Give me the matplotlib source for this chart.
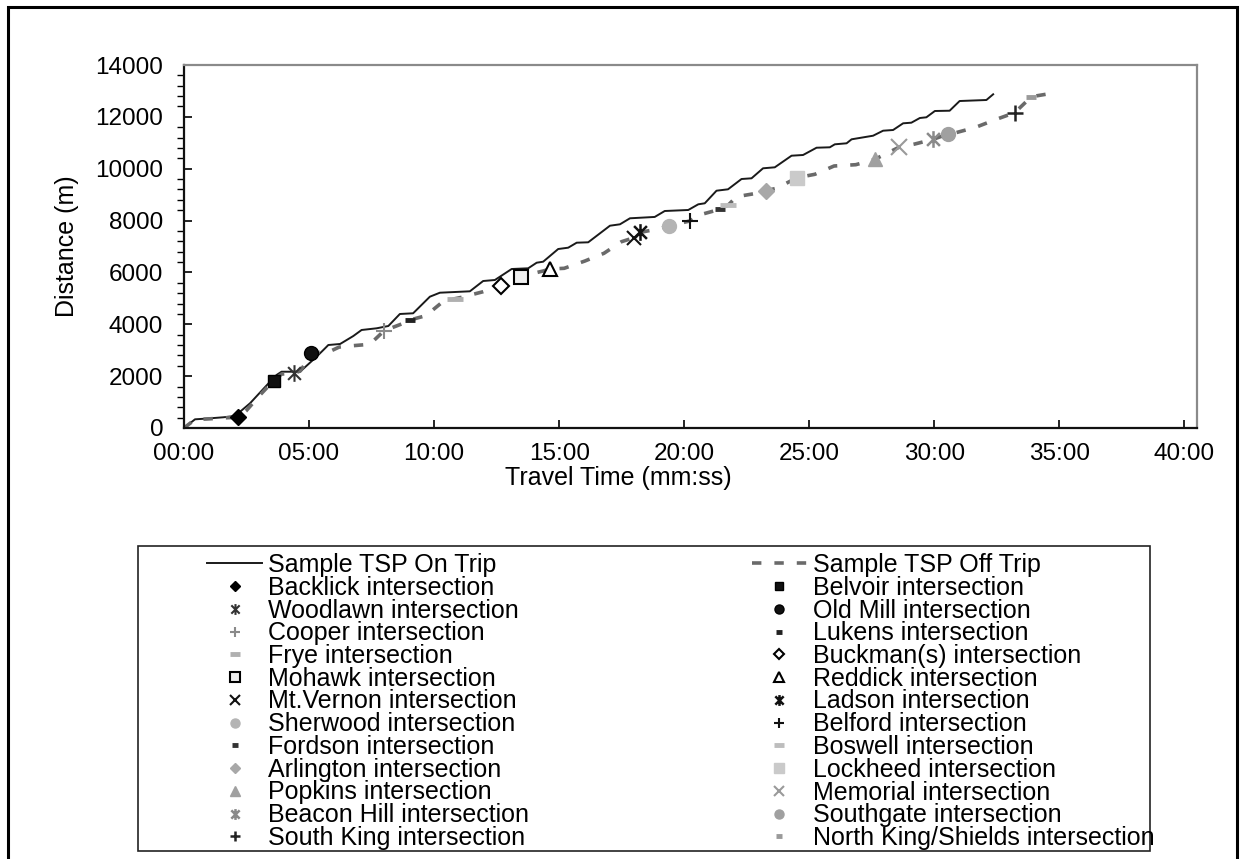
import matplotlib
matplotlib.use("Agg")
import matplotlib.pyplot as plt
from matplotlib.path import Path
from matplotlib.patches import Rectangle
from matplotlib.ticker import MultipleLocator, FuncFormatter

plt.rcParams['font.family'] = ['Liberation Sans', 'DejaVu Sans']

# travel time (minutes) and distance (m) for the two sample trips
on_t = [0, 0.44, 0.84, 1.57, 2.04, 2.64, 3.44, 3.70, 3.90, 4.64, 5.30, 5.64, 5.77, 6.24, 6.77,
        7.10, 7.70, 8.17, 8.63, 9.16, 9.83, 10.23, 11.43, 11.96, 12.43, 13.10, 13.76, 14.10, 14.36, 14.96,
        15.36, 15.70, 16.16, 17.03, 17.43, 17.83, 18.82, 19.22, 20.16, 20.56, 20.82, 21.29, 21.75, 22.29, 22.69,
        23.15, 23.62, 24.29, 24.75, 25.29, 25.82, 26.02, 26.49, 26.69, 27.55, 27.95, 28.35, 28.75, 29.08, 29.42,
        29.68, 30.02, 30.61, 31.01, 32.08, 32.35]
on_d = [0, 335, 359, 413, 463, 953, 1786, 2044, 2171, 2171, 2750, 3074, 3201, 3240, 3548,
        3780, 3845, 3934, 4397, 4424, 5064, 5218, 5272, 5669, 5708, 6132, 6159, 6375, 6414, 6903,
        6954, 7147, 7162, 7802, 7856, 8088, 8140, 8369, 8408, 8627, 8666, 9152, 9206, 9603, 9630,
        10016, 10054, 10502, 10529, 10810, 10826, 10941, 10980, 11134, 11273, 11466, 11493, 11751, 11775, 11956,
        11983, 12226, 12237, 12611, 12650, 12870]

off_t = [0, 0.44, 0.91, 1.73, 2.17, 2.48, 3.04, 3.58, 3.90, 4.40, 4.65, 5.09, 5.40, 5.81, 6.20,
         6.61, 7.43, 7.99, 8.40, 8.77, 9.03, 9.67, 10.30, 10.83, 11.10, 11.96, 12.66, 13.46, 13.90, 14.36,
         14.63, 15.20, 16.03, 16.79, 17.49, 17.99, 18.25, 19.02, 19.40, 19.82, 20.22, 20.60, 21.42, 21.76, 22.09,
         22.89, 23.25, 23.69, 24.51, 25.22, 25.99, 26.86, 27.62, 28.42, 28.58, 29.22, 29.95, 30.55, 30.86, 31.65,
         32.48, 33.21, 33.88, 34.68, 34.85]
off_d = [0, 330, 347, 397, 413, 656, 1273, 1825, 2080, 2110, 2200, 2830, 2920, 2943, 3120,
         3163, 3228, 3741, 3900, 4038, 4165, 4332, 4833, 4987, 5040, 5257, 5477, 5836, 5950, 6055,
         6132, 6159, 6441, 6738, 7185, 7340, 7547, 7690, 7803, 7894, 7983, 8215, 8434, 8600, 8921,
         9052, 9152, 9245, 9653, 9784, 10105, 10155, 10362, 10748, 10826, 10953, 11134, 11339, 11389, 11597,
         11906, 12160, 12777, 12907, 12960]

# intersections passed on the off trip
names = ['Backlick', 'Belvoir', 'Woodlawn', 'Old Mill', 'Cooper', 'Lukens', 'Frye', 'Buckman(s)',
         'Mohawk', 'Reddick', 'Mt.Vernon', 'Ladson', 'Sherwood', 'Belford', 'Fordson', 'Boswell',
         'Arlington', 'Lockheed', 'Popkins', 'Memorial', 'Beacon Hill', 'Southgate', 'South King',
         'North King/Shields']
int_t = [2.17, 3.58, 4.40, 5.09, 7.99, 9.03, 10.83, 12.66, 13.46, 14.63, 17.99, 18.25, 19.40, 20.22,
         21.42, 21.76, 23.25, 24.51, 27.62, 28.58, 29.95, 30.55, 33.21, 33.88]
int_d = [413, 1825, 2110, 2880, 3741, 4165, 4987, 5477, 5836, 6132, 7340, 7547, 7803, 7983,
         8434, 8600, 9152, 9653, 10362, 10826, 11134, 11339, 12160, 12777]

# asterisk marker: x with a vertical bar
star = Path([(-1, -1), (1, 1), (-1, 1), (1, -1), (0, -1.3), (0, 1.3)],
            [Path.MOVETO, Path.LINETO, Path.MOVETO, Path.LINETO, Path.MOVETO, Path.LINETO])

# marker, face colour, edge colour, size, edge width
styles = [
    ('D', 'black', 'black', 8, 1),
    ('s', '#111111', 'black', 9, 1),
    (star, 'none', '#333333', 12, 1.5),
    ('o', '#111111', 'black', 10, 1),
    ('+', 'none', '#8a8a8a', 11, 1.5),
    ('_', 'none', '#222222', 7, 3.5),
    ('_', 'none', '#b0b0b0', 11, 3.5),
    ('D', 'white', 'black', 8, 1.5),
    ('s', '#eeeeee', 'black', 10, 1.5),
    ('^', 'white', 'black', 10, 1.5),
    ('x', 'none', '#111111', 10, 1.5),
    (star, 'none', '#111111', 12, 1.8),
    ('o', '#b4b4b4', '#b4b4b4', 10, 1),
    ('+', 'none', '#111111', 11, 1.5),
    ('_', 'none', '#333333', 7, 3.5),
    ('_', 'none', '#bdbdbd', 11, 3.5),
    ('D', '#a8a8a8', '#a8a8a8', 8, 1),
    ('s', '#cacaca', '#cacaca', 10, 1),
    ('^', '#a0a0a0', '#a0a0a0', 10, 1),
    ('x', 'none', '#9a9a9a', 11, 1.5),
    (star, 'none', '#8a8a8a', 12, 1.8),
    ('o', '#a0a0a0', '#a0a0a0', 10, 1),
    ('+', 'none', '#222222', 11, 1.8),
    ('_', 'none', '#9a9a9a', 7, 3.5),
]

fig = plt.figure(figsize=(12.53, 8.59), dpi=100)
W, H = 1253.0, 859.0
ax = fig.add_axes([184 / W, 1 - 428 / H, (1197 - 184) / W, (428 - 65) / H])

handles = []
h_on, = ax.plot(on_t, on_d, color='#1a1a1a', lw=1.4, label='Sample TSP On Trip')
h_off, = ax.plot(off_t, off_d, color='#6a6a6a', lw=2.6, linestyle=(0, (2.6, 3.6)),
                 label='Sample TSP Off Trip')
handles += [h_on, h_off]
for name, t, d, (m, fc, ec, ms, mew) in zip(names, int_t, int_d, styles):
    h, = ax.plot([t], [d], linestyle='none', marker=m, markerfacecolor=fc, markeredgecolor=ec,
                 markersize=ms, markeredgewidth=mew, label=name + ' intersection', zorder=4)
    handles.append(h)

ax.set_xlim(0, 40.5)
ax.set_ylim(0, 14000)
ax.xaxis.set_major_locator(MultipleLocator(5))
ax.xaxis.set_major_formatter(FuncFormatter(lambda v, p: '%02d:00' % int(round(v))))
ax.yaxis.set_major_locator(MultipleLocator(2000))
ax.yaxis.set_minor_locator(MultipleLocator(400))
ax.tick_params(axis='both', direction='in', labelsize=17.5, colors='black')
ax.tick_params(axis='x', length=6, width=1.2, pad=11)
ax.tick_params(axis='y', which='major', length=6, width=1.2, pad=15)
ax.tick_params(axis='y', which='minor', length=5, width=1.0)
ax.tick_params(axis='x', which='minor', bottom=False)

ax.yaxis.grid(True, color='black', lw=0.9, linestyle=(4, (5, 4.5)))
for gl in ax.yaxis.get_gridlines():
    y = gl.get_ydata()[0]
    if y <= 0 or y >= 14000:
        gl.set_visible(False)

for side in ('left', 'bottom'):
    ax.spines[side].set_color('#111111')
    ax.spines[side].set_linewidth(1.6)
for side in ('top', 'right'):
    ax.spines[side].set_color('#8a8a8a')
    ax.spines[side].set_linewidth(1.6)

ax.set_ylabel('Distance (m)', fontsize=18)
ax.yaxis.set_label_coords((67 - 184) / (1197 - 184), 0.5)
ax.set_xlabel('Travel Time (mm:ss)', fontsize=18)
ax.xaxis.set_label_coords((618 - 184) / (1197 - 184), -(478 - 428) / (428 - 65))
ax.xaxis.label.set_va('center')
ax.yaxis.label.set_va('center')

# legend: rows read left to right, so put the items in column order
order = handles[0::2] + handles[1::2]
leg = fig.legend(order, [h.get_label() for h in order], ncol=2, frameon=False,
                 loc='upper left', bbox_to_anchor=(207 / W, 1 - 553 / H),
                 fontsize=18, borderpad=0, handlelength=2.2, handletextpad=0.25,
                 labelspacing=-0.05, columnspacing=8.9, markerscale=0.65,
                 borderaxespad=0)

fig.patches.append(Rectangle((138 / W, 1 - 851 / H), (1150 - 138) / W, (851 - 546) / H,
                             transform=fig.transFigure, fill=False, edgecolor='#222222', lw=1.2))
fig.patches.append(Rectangle((8 / W, -0.02), (1237 - 8) / W, 1 - 7 / H + 0.02,
                             transform=fig.transFigure, fill=False, edgecolor='black', lw=2.2))

fig.savefig('out.png', dpi=100)
